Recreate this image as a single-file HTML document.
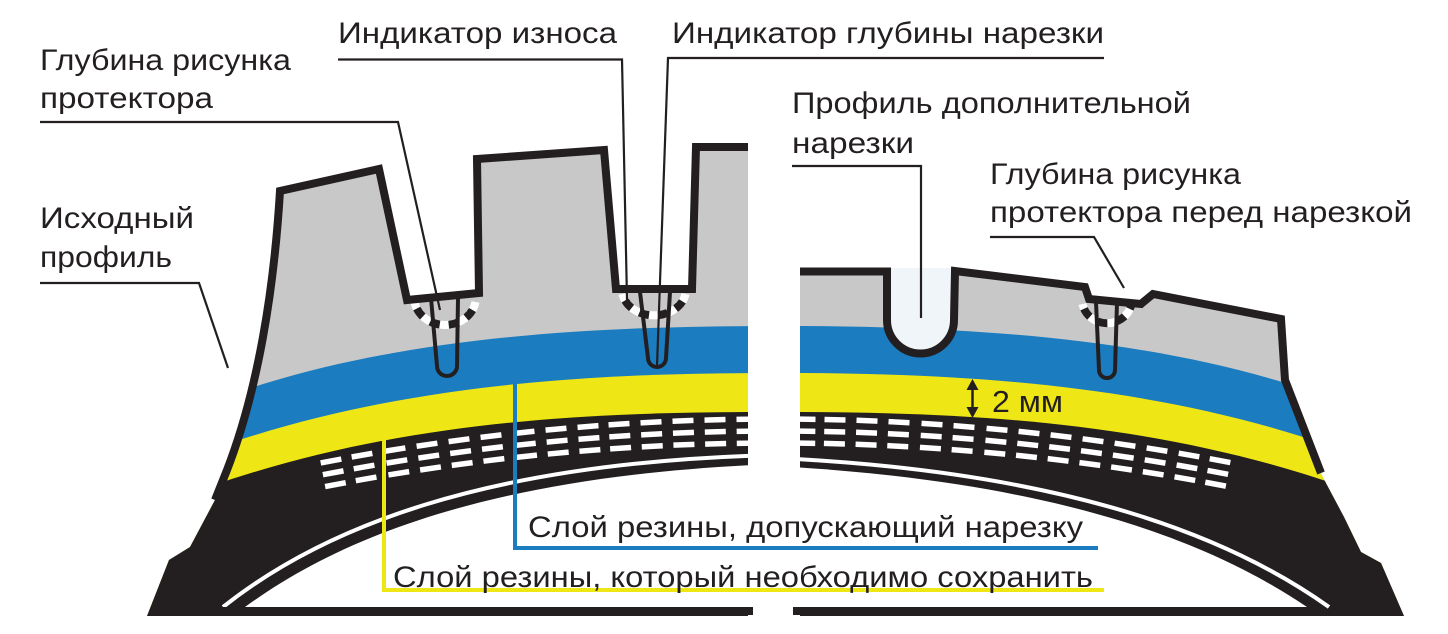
<!DOCTYPE html>
<html>
<head>
<meta charset="utf-8">
<style>
html,body{margin:0;padding:0;background:#fff;width:1448px;height:634px;overflow:hidden;}
svg{display:block;overflow:hidden}
text{font-family:"Liberation Sans Narrow","Liberation Sans",sans-serif;fill:#231f20;}
</style>
</head>
<body>
<svg width="1448" height="634" viewBox="0 0 1448 634" xmlns="http://www.w3.org/2000/svg" xmlns:xlink="http://www.w3.org/1999/xlink">
<defs>
  <clipPath id="hL"><rect x="0" y="0" width="748" height="634"/></clipPath>
  <clipPath id="hR"><rect x="800" y="0" width="648" height="634"/></clipPath>
  <clipPath id="cL"><path d="M280,191 L379,169 L407,300 L479,293 L477,159 L604,150 L616,289 L692,289 L696,147 L760,147 L760,616 L147,616 L169,560 L190,547 L215,500 L227,470 C258,390 274,290 280,191 Z"/></clipPath>
  <clipPath id="cR"><path d="M790,271.5 L887,271.5 L887,320 A33.5,33.5 0 0 0 954,320 L955,271 L1085,287 L1089,299 L1141,304 L1153,294 L1281,319 L1285,380 L1319,470 L1344,517 L1361,552 L1381,563 L1404,616 L790,616 Z"/></clipPath>
  <g id="cd" fill="#fff">
    <rect x="-10.5" y="-2.75" width="21" height="5.5"/>
    <rect x="-10.5" y="9.25" width="21" height="5.5"/>
    <rect x="-10.5" y="21.25" width="21" height="5.5"/>
  </g>
</defs>

<!-- LEFT HALF -->
<g clip-path="url(#hL)">
  <g clip-path="url(#cL)">
    <rect x="0" y="0" width="800" height="630" fill="#c8c8c8"/>
    <path d="M776,326 C600,326 400,335 230,395 L100,630 L776,630 Z" fill="#1b7cc0"/>
    <path d="M776,373 C600,373 400,382 210,450 L100,630 L776,630 Z" fill="#eee615"/>
    <path d="M776,412 C600,412 400,418 200,490 L100,630 L776,630 Z" fill="#231f20"/>
    <path d="M245,607 C340,538 490,475 776,464 L776,607 Z" fill="#fff"/>
    <path d="M223,607 C320,530 480,462 776,455" fill="none" stroke="#fff" stroke-width="4"/>
    <use href="#cd" xlink:href="#cd" transform="translate(331,461) rotate(-10.6)"/>
    <use href="#cd" xlink:href="#cd" transform="translate(362,455.2) rotate(-9.9)"/>
    <use href="#cd" xlink:href="#cd" transform="translate(395,449.6) rotate(-9.1)"/>
    <use href="#cd" xlink:href="#cd" transform="translate(427,444.7) rotate(-8.4)"/>
    <use href="#cd" xlink:href="#cd" transform="translate(459,440.2) rotate(-7.6)"/>
    <use href="#cd" xlink:href="#cd" transform="translate(491,436.1) rotate(-6.9)"/>
    <use href="#cd" xlink:href="#cd" transform="translate(524,432.4) rotate(-6.1)"/>
    <use href="#cd" xlink:href="#cd" transform="translate(556,429.2) rotate(-5.3)"/>
    <use href="#cd" xlink:href="#cd" transform="translate(588,426.5) rotate(-4.5)"/>
    <use href="#cd" xlink:href="#cd" transform="translate(619,424.2) rotate(-3.8)"/>
    <use href="#cd" xlink:href="#cd" transform="translate(651,422.3) rotate(-3.0)"/>
    <use href="#cd" xlink:href="#cd" transform="translate(683,420.8) rotate(-2.2)"/>
    <use href="#cd" xlink:href="#cd" transform="translate(715,419.8) rotate(-1.5)"/>
    <use href="#cd" xlink:href="#cd" transform="translate(747,419.2) rotate(-0.7)"/>
    <!-- dashed arcs -->
    <path d="M414.5,302 A31,28 0 0 0 475.5,302" fill="none" stroke="#fff" stroke-width="8"/>
    <path d="M414.5,302 A31,28 0 0 0 475.5,302" fill="none" stroke="#231f20" stroke-width="8" stroke-dasharray="10 9" stroke-dashoffset="12"/>
    <path d="M622.5,294 A32,26 0 0 0 685.5,294" fill="none" stroke="#fff" stroke-width="8"/>
    <path d="M622.5,294 A32,26 0 0 0 685.5,294" fill="none" stroke="#231f20" stroke-width="8" stroke-dasharray="10 9" stroke-dashoffset="12"/>
    <!-- slots -->
    <path d="M431,298 L437,366 A10,10 0 0 0 457,366 L458,298" fill="none" stroke="#231f20" stroke-width="4"/>
    <path d="M640,292 L648,358 A9,9 0 0 0 666,358 L670,292" fill="none" stroke="#231f20" stroke-width="4"/>
  </g>
  <path d="M215,500 L227,470 C258,390 274,290 280,191 L379,169 L407,300 L479,293 L477,159 L604,150 L616,289 L692,289 L696,147 L760,147" fill="none" stroke="#231f20" stroke-width="8" stroke-linejoin="miter"/>
</g>
<rect x="200" y="607" width="553" height="8" fill="#231f20"/>

<!-- RIGHT HALF -->
<g clip-path="url(#hR)">
  <path d="M887,268 L887,320 A33.5,33.5 0 0 0 954,320 L954,268 Z" fill="#f0f5f9"/>
  <g clip-path="url(#cR)">
    <rect x="760" y="0" width="688" height="630" fill="#c8c8c8"/>
    <path d="M776,326 C952,326 1152,335 1322,395 L1440,630 L776,630 Z" fill="#1b7cc0"/>
    <path d="M776,373 C952,373 1152,382 1342,450 L1440,630 L776,630 Z" fill="#eee615"/>
    <path d="M776,412 C952,412 1152,418 1352,490 L1440,630 L776,630 Z" fill="#231f20"/>
    <path d="M1307,607 C1215,545 1065,482 776,466 L776,607 Z" fill="#fff"/>
    <path d="M1329,607 C1235,540 1075,472 776,458" fill="none" stroke="#fff" stroke-width="4"/>
    <use href="#cd" xlink:href="#cd" transform="translate(805,419.2) rotate(0.7)"/>
    <use href="#cd" xlink:href="#cd" transform="translate(835,419.7) rotate(1.4)"/>
    <use href="#cd" xlink:href="#cd" transform="translate(867,420.7) rotate(2.2)"/>
    <use href="#cd" xlink:href="#cd" transform="translate(899,422.2) rotate(3.0)"/>
    <use href="#cd" xlink:href="#cd" transform="translate(932,424.1) rotate(3.8)"/>
    <use href="#cd" xlink:href="#cd" transform="translate(964,426.5) rotate(4.5)"/>
    <use href="#cd" xlink:href="#cd" transform="translate(997,429.3) rotate(5.3)"/>
    <use href="#cd" xlink:href="#cd" transform="translate(1029,432.5) rotate(6.1)"/>
    <use href="#cd" xlink:href="#cd" transform="translate(1061,436.1) rotate(6.9)"/>
    <use href="#cd" xlink:href="#cd" transform="translate(1093,440.2) rotate(7.6)"/>
    <use href="#cd" xlink:href="#cd" transform="translate(1125,444.7) rotate(8.4)"/>
    <use href="#cd" xlink:href="#cd" transform="translate(1157,449.6) rotate(9.1)"/>
    <use href="#cd" xlink:href="#cd" transform="translate(1189,455) rotate(9.9)"/>
    <use href="#cd" xlink:href="#cd" transform="translate(1220,460.6) rotate(10.6)"/>
    <!-- dashed arc -->
    <path d="M1082.5,304 A25,24 0 0 0 1131.5,304" fill="none" stroke="#fff" stroke-width="8"/>
    <path d="M1082.5,304 A25,24 0 0 0 1131.5,304" fill="none" stroke="#231f20" stroke-width="8" stroke-dasharray="10 9" stroke-dashoffset="14"/>
    <!-- slot -->
    <path d="M1096,302 L1099,370 A8,8 0 0 0 1115,370 L1117,302" fill="none" stroke="#231f20" stroke-width="4"/>
  </g>
  <path d="M790,271.5 L887,271.5 L887,320 A33.5,33.5 0 0 0 954,320 L955,271 L1085,287 L1089,299 L1141,304 L1153,294 L1281,319 L1285,380 L1321,473" fill="none" stroke="#231f20" stroke-width="8" stroke-linejoin="miter"/>
</g>
<rect x="793" y="607" width="530" height="8" fill="#231f20"/>

<!-- 2 mm arrow -->
<line x1="972.5" y1="386" x2="972.5" y2="411" stroke="#231f20" stroke-width="2.5"/>
<path d="M972.5,379 L966.5,390 L978.5,390 Z" fill="#231f20"/>
<path d="M972.5,418 L966.5,407 L978.5,407 Z" fill="#231f20"/>
<text x="992" y="412" font-size="31" textLength="71" lengthAdjust="spacingAndGlyphs">2 мм</text>

<!-- leader lines -->
<g fill="none" stroke="#231f20" stroke-width="2.2">
  <path d="M40,122 L398,122 L440,310"/>
  <path d="M40,283 L199,283 L228,368"/>
  <path d="M338,59.5 L622,59.5 L627,300"/>
  <path d="M1104,58 L668,58 L657,366"/>
  <path d="M792,166 L921,166 L921,318"/>
  <path d="M990,237 L1094,237 L1124,288"/>
</g>
<path d="M515,384 L515,548 L1098,548" fill="none" stroke="#1b7cc0" stroke-width="4"/>
<path d="M384,440 L384,590 L1104,590" fill="none" stroke="#eee615" stroke-width="4"/>

<!-- labels -->
<text x="40" y="70" font-size="30" textLength="251" lengthAdjust="spacingAndGlyphs">Глубина рисунка</text>
<text x="40" y="108" font-size="30" textLength="173" lengthAdjust="spacingAndGlyphs">протектора</text>
<text x="338" y="43" font-size="30" textLength="279" lengthAdjust="spacingAndGlyphs">Индикатор износа</text>
<text x="672" y="43" font-size="30" textLength="432" lengthAdjust="spacingAndGlyphs">Индикатор глубины нарезки</text>
<text x="40" y="228" font-size="30" textLength="154" lengthAdjust="spacingAndGlyphs">Исходный</text>
<text x="40" y="267" font-size="30" textLength="132" lengthAdjust="spacingAndGlyphs">профиль</text>
<text x="792" y="113" font-size="30" textLength="399" lengthAdjust="spacingAndGlyphs">Профиль дополнительной</text>
<text x="792" y="153" font-size="30" textLength="122" lengthAdjust="spacingAndGlyphs">нарезки</text>
<text x="990" y="184" font-size="30" textLength="251" lengthAdjust="spacingAndGlyphs">Глубина рисунка</text>
<text x="990" y="222" font-size="30" textLength="422" lengthAdjust="spacingAndGlyphs">протектора перед нарезкой</text>
<text x="528" y="537" font-size="30" textLength="555" lengthAdjust="spacingAndGlyphs">Слой резины, допускающий нарезку</text>
<text x="393" y="587" font-size="30" textLength="700" lengthAdjust="spacingAndGlyphs">Слой резины, который необходимо сохранить</text>
</svg>
</body>
</html>
